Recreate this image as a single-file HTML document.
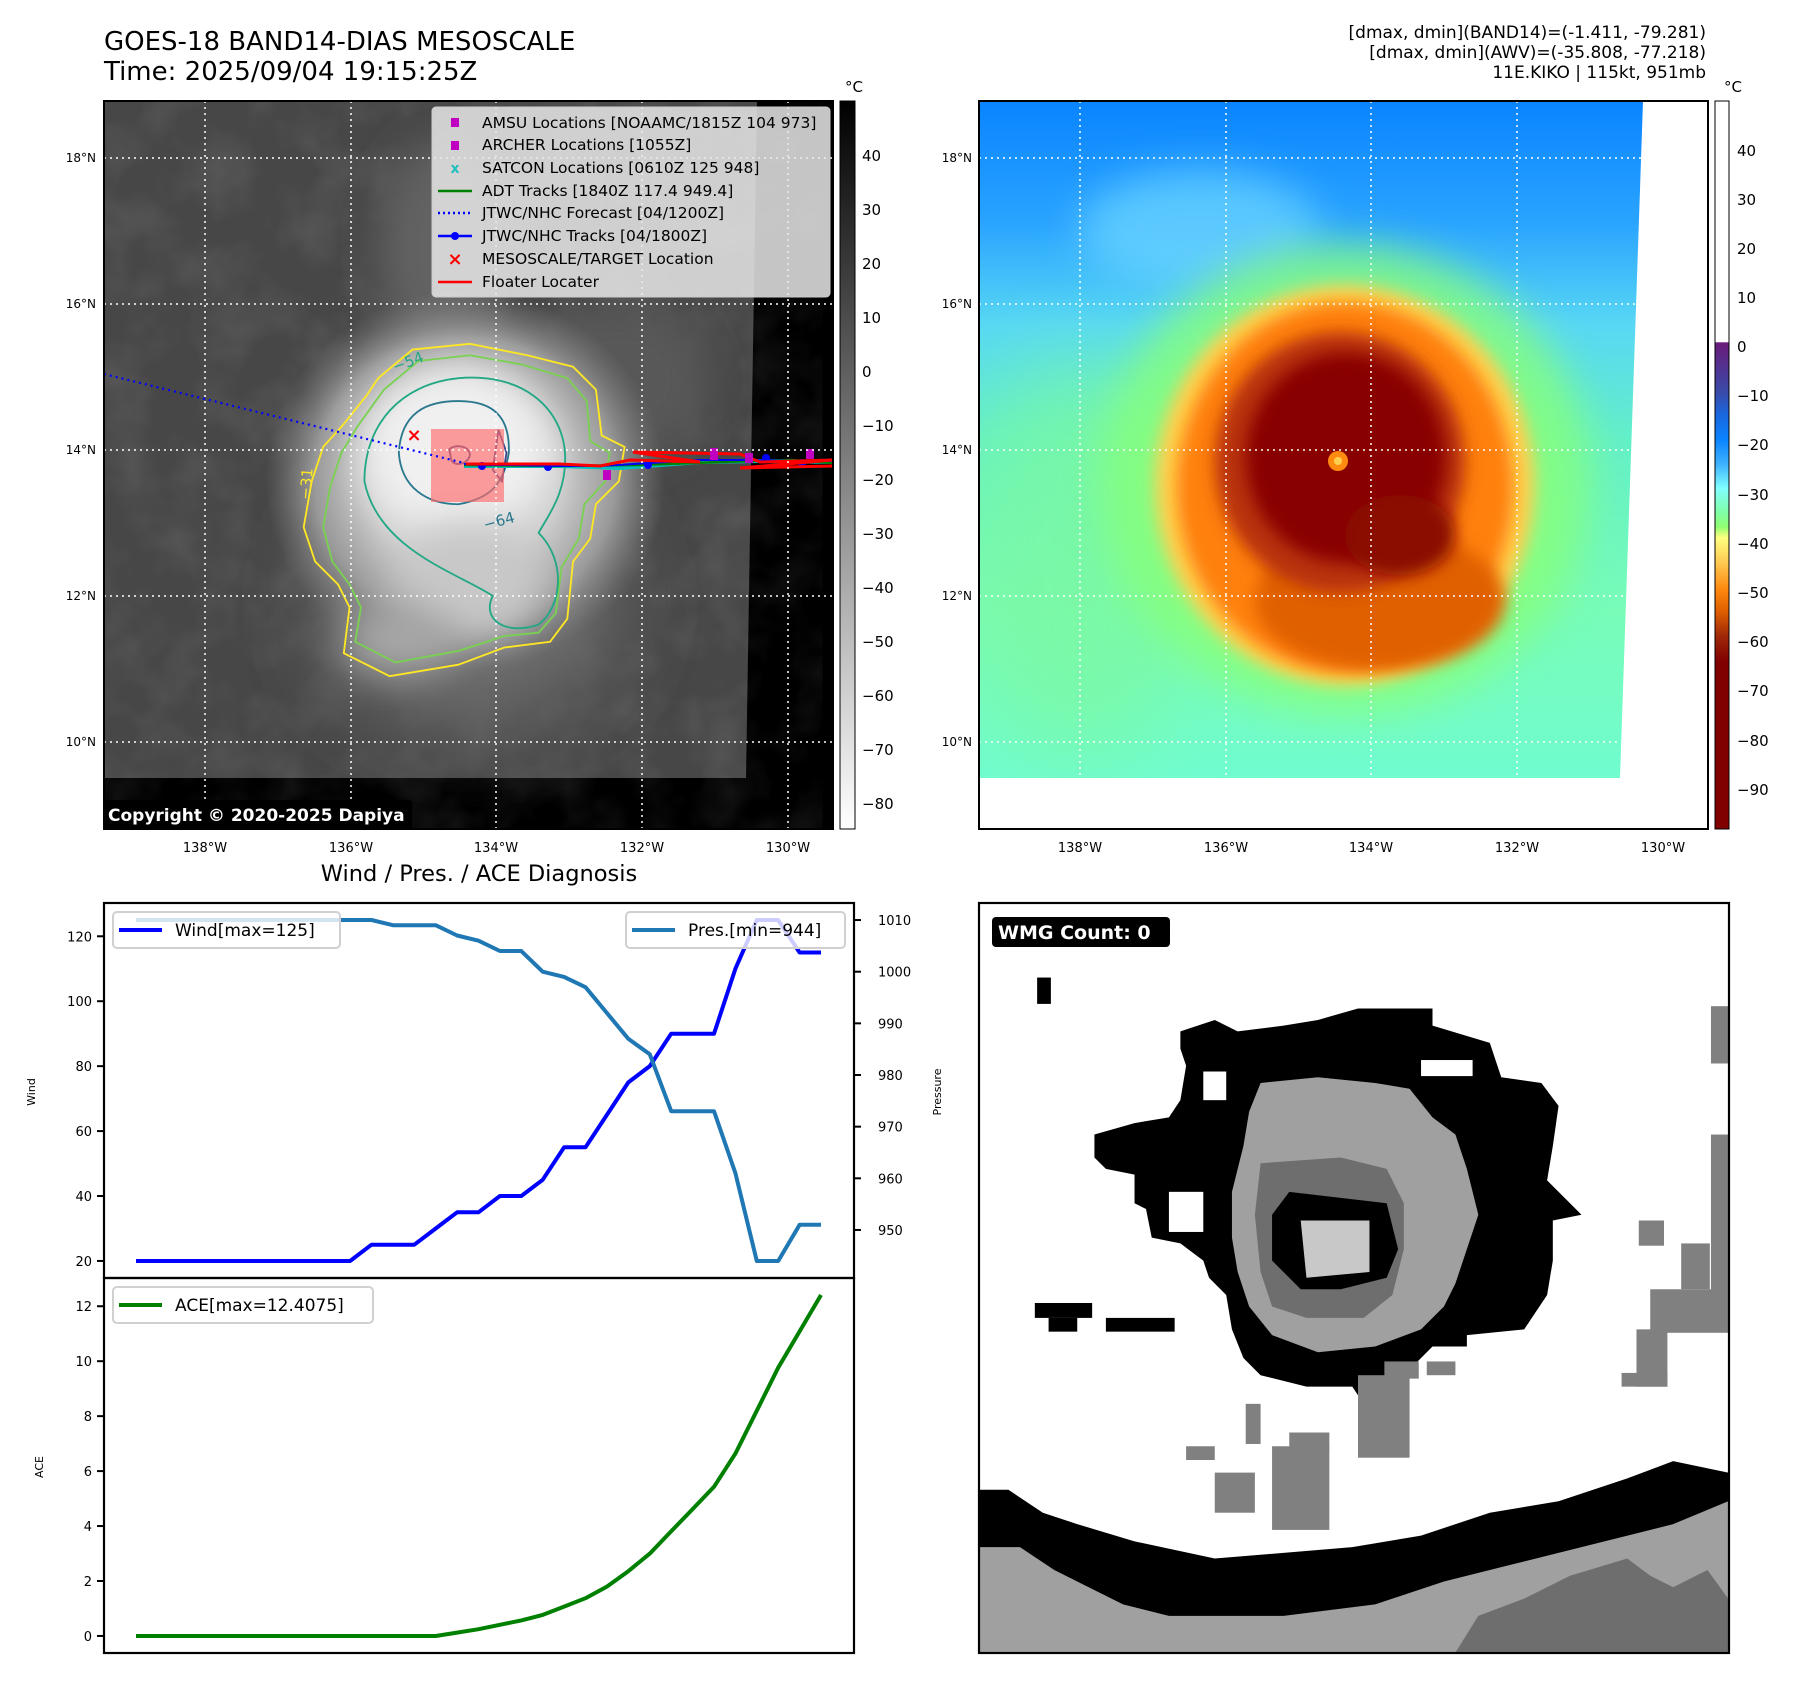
<!DOCTYPE html>
<html><head><meta charset="utf-8"><title>GOES-18 BAND14 KIKO</title>
<style>
html,body{margin:0;padding:0;background:#fff;}
svg{display:block;font-family:"DejaVu Sans","Liberation Sans",sans-serif;}
</style></head>
<body>
<svg id="root" width="1797" height="1690" viewBox="0 0 1797 1690" xmlns="http://www.w3.org/2000/svg">
<defs>
  <filter id="blur8" x="-50%" y="-50%" width="200%" height="200%"><feGaussianBlur stdDeviation="8"/></filter>
  <filter id="blur20" x="-50%" y="-50%" width="200%" height="200%"><feGaussianBlur stdDeviation="20"/></filter>
  <filter id="blur40" x="-50%" y="-50%" width="200%" height="200%"><feGaussianBlur stdDeviation="40"/></filter>
  <filter id="clouds"><feTurbulence type="fractalNoise" baseFrequency="0.02" numOctaves="3" seed="4"/><feColorMatrix type="matrix" values="0 0 0 0 1  0 0 0 0 1  0 0 0 0 1  0.9 0 0 0 -0.35"/></filter>
  <linearGradient id="gcb" x1="0" y1="0" x2="0" y2="1">
    <stop offset="0" stop-color="#000"/><stop offset="1" stop-color="#fff"/>
  </linearGradient>
  <linearGradient id="ccb" x1="0" y1="0" x2="0" y2="1">
    <stop offset="0" stop-color="#fff"/><stop offset="0.331" stop-color="#fff"/>
    <stop offset="0.332" stop-color="#6a1b7a"/>
    <stop offset="0.40" stop-color="#3a4aa8"/>
    <stop offset="0.43" stop-color="#1a66dd"/>
    <stop offset="0.465" stop-color="#0a84ff"/>
    <stop offset="0.50" stop-color="#40b4ff"/>
    <stop offset="0.532" stop-color="#80ffff"/>
    <stop offset="0.565" stop-color="#80ffa8"/>
    <stop offset="0.585" stop-color="#90ff70"/>
    <stop offset="0.60" stop-color="#ffff80"/>
    <stop offset="0.635" stop-color="#ffc850"/>
    <stop offset="0.67" stop-color="#ff8a10"/>
    <stop offset="0.70" stop-color="#e06000"/>
    <stop offset="0.735" stop-color="#a02808"/>
    <stop offset="0.77" stop-color="#800000"/>
    <stop offset="1" stop-color="#800000"/>
  </linearGradient>
  <linearGradient id="skyR" x1="0" y1="0" x2="0" y2="1">
    <stop offset="0" stop-color="#0a84ff"/><stop offset="0.18" stop-color="#2aa4ff"/>
    <stop offset="0.33" stop-color="#58d8f4"/><stop offset="0.5" stop-color="#64f0c8"/>
    <stop offset="0.75" stop-color="#78fcb8"/><stop offset="1" stop-color="#70fcd0"/>
  </linearGradient>
  <radialGradient id="stormL" cx="0.5" cy="0.5" r="0.5">
    <stop offset="0" stop-color="#e8e8e8"/><stop offset="0.45" stop-color="#cfcfcf"/>
    <stop offset="0.75" stop-color="#9a9a9a"/><stop offset="1" stop-color="#808080" stop-opacity="0"/>
  </radialGradient>
  <clipPath id="clipL"><rect x="104" y="101" width="729" height="728"/></clipPath>
  <clipPath id="clipR"><polygon points="979,101 1643,101 1620,778 979,778"/></clipPath>
  <clipPath id="clipW"><rect x="979" y="903" width="750" height="750"/></clipPath>
</defs>

<!-- Titles -->
<text x="104" y="50" font-size="26" fill="#000">GOES-18 BAND14-DIAS MESOSCALE</text>
<text x="104" y="80" font-size="26" fill="#000">Time: 2025/09/04 19:15:25Z</text>
<g font-size="17" text-anchor="end" fill="#000">
  <text x="1706" y="38">[dmax, dmin](BAND14)=(-1.411, -79.281)</text>
  <text x="1706" y="58">[dmax, dmin](AWV)=(-35.808, -77.218)</text>
  <text x="1706" y="78">11E.KIKO | 115kt, 951mb</text>
</g>

<!-- LEFT MAP -->
<g>
  <g clip-path="url(#clipL)">
    <rect x="104" y="101" width="729" height="728" fill="#000"/>
    <polygon points="104,101 757,101 746,778 104,778" fill="#474747"/>
    <polygon points="104,101 757,101 746,778 104,778" fill="#000" opacity="0.18" filter="url(#clouds)"/>
    <ellipse cx="440" cy="250" rx="60" ry="110" fill="#626262" filter="url(#blur20)"/>
    <ellipse cx="620" cy="380" rx="90" ry="80" fill="#585858" filter="url(#blur20)"/>
    <ellipse cx="470" cy="600" rx="150" ry="130" fill="#6c6c6c" filter="url(#blur40)"/>
    <ellipse cx="465" cy="480" rx="200" ry="190" fill="url(#stormL)"/>
    <ellipse cx="455" cy="450" rx="95" ry="85" fill="#f0f0f0" filter="url(#blur20)"/>
    <ellipse cx="470" cy="580" rx="75" ry="60" fill="#c8c8c8" filter="url(#blur20)"/>
    <ellipse cx="400" cy="640" rx="60" ry="35" fill="#a8a8a8" filter="url(#blur20)"/>
    <g transform="scale(1.146)" fill="none" stroke-width="1.6">
      <path d="M330,330 L360,305 L410,300 L460,310 L500,320 L520,340 L525,380 L545,390 L540,420 L520,440 L515,470 L500,490 L495,540 L480,560 L440,565 L400,580 L340,590 L300,570 L305,530 L295,510 L275,490 L265,460 L272,420 L282,390 L300,370 L320,345 Z" stroke="#fde725"/>
      <path d="M335,340 L365,315 L410,310 L455,318 L495,330 L512,350 L515,385 L532,395 L528,420 L510,440 L505,470 L490,495 L485,535 L470,552 L440,555 L400,568 L345,578 L310,560 L315,530 L305,510 L290,490 L282,460 L288,425 L298,395 L312,372 Z" stroke="#7ad151"/>
      <path d="M318,420 C318,370 350,335 400,330 C455,325 490,355 493,395 C495,430 478,450 470,465 C495,490 490,530 470,545 C440,555 420,540 430,520 C400,500 330,480 318,420 Z" stroke="#22a884"/>
      <path d="M348,395 C350,360 372,350 400,350 C432,350 445,365 444,395 C440,420 430,435 400,440 C372,440 350,425 348,395 Z" stroke="#2a788e"/>
      <path d="M392,392 C396,388 408,388 410,396 C410,404 398,408 394,402 Z" stroke="#414487"/>
      <path d="M435,375 L442,395 L438,420 L430,410 Z" stroke="#414487"/>
    </g>
    <text x="395" y="372" font-size="15" fill="#22a884" transform="rotate(-20 395 372)">−54</text>
    <text x="485" y="530" font-size="15" fill="#2a788e" transform="rotate(-15 485 530)">−64</text>
    <text x="310" y="500" font-size="15" fill="#fde725" transform="rotate(-85 310 500)">−31</text>
    <rect x="431" y="429" width="73" height="73" fill="#ff6b6b" opacity="0.65"/>
    <line x1="104" y1="374" x2="464" y2="463" stroke="#0000ff" stroke-width="2.2" stroke-dasharray="2,4"/>
    <polyline points="464,466 560,466 620,468 700,462 760,461 833,462" fill="none" stroke="#00c0c0" stroke-width="4"/>
    <polyline points="464,465 560,466 640,465 720,462 790,460 833,463" fill="none" stroke="#008000" stroke-width="2.5"/>
    <polyline points="464,464 482,465 510,465 560,466 600,466 650,463 700,460 750,460 800,461 833,461" fill="none" stroke="#0000ff" stroke-width="2"/>
    <g fill="#0000ff">
      <circle cx="482" cy="466" r="4"/><circle cx="548" cy="467" r="4"/><circle cx="648" cy="465" r="4"/><circle cx="766" cy="458" r="4"/><circle cx="802" cy="463" r="4"/>
    </g>
    <polyline points="466,464 560,464 600,466 630,460 700,462 633,452 740,454 760,462 833,460 740,468 833,466" fill="none" stroke="#ff0000" stroke-width="3"/>
    <g fill="#c000c0">
      <rect x="603" y="470" width="8" height="10"/><rect x="710" y="448" width="8" height="12"/><rect x="745" y="453" width="8" height="10"/><rect x="806" y="449" width="8" height="10"/>
    </g>
    <text x="414" y="441" font-size="18" font-weight="bold" fill="#ff0000" text-anchor="middle">×</text>
    <g stroke="#fff" stroke-width="1.5" stroke-dasharray="2,4">
      <line x1="205" y1="101" x2="205" y2="829"/><line x1="351" y1="101" x2="351" y2="829"/><line x1="496" y1="101" x2="496" y2="829"/><line x1="642" y1="101" x2="642" y2="829"/><line x1="788" y1="101" x2="788" y2="829"/>
      <line x1="104" y1="158" x2="833" y2="158"/><line x1="104" y1="304" x2="833" y2="304"/><line x1="104" y1="450" x2="833" y2="450"/><line x1="104" y1="596" x2="833" y2="596"/><line x1="104" y1="742" x2="833" y2="742"/>
    </g>
    <rect x="104" y="800" width="308" height="29" fill="#000" rx="3"/>
    <text x="108" y="821" font-size="17" font-weight="bold" fill="#fff">Copyright © 2020-2025 Dapiya</text>
  </g>
  <rect x="104" y="101" width="729" height="728" fill="none" stroke="#000" stroke-width="2"/>
</g>

<g>
  <rect x="432" y="107" width="398" height="190" rx="4" fill="#e8e8e8" fill-opacity="0.85" stroke="#ccc"/>
  <g font-size="15.5" fill="#000">
    <rect x="451" y="118" width="8" height="9" fill="#c000c0"/><text x="482" y="128">AMSU Locations [NOAAMC/1815Z 104 973]</text>
    <rect x="451" y="141" width="8" height="9" fill="#c000c0"/><text x="482" y="150">ARCHER Locations [1055Z]</text>
    <text x="455" y="173" font-size="14" font-weight="bold" fill="#20c0c0" text-anchor="middle">x</text><text x="482" y="173">SATCON Locations [0610Z 125 948]</text>
    <line x1="438" y1="191" x2="472" y2="191" stroke="#008000" stroke-width="2.5"/><text x="482" y="196">ADT Tracks [1840Z 117.4 949.4]</text>
    <line x1="438" y1="213" x2="472" y2="213" stroke="#0000ff" stroke-width="2.5" stroke-dasharray="2,3"/><text x="482" y="218">JTWC/NHC Forecast [04/1200Z]</text>
    <line x1="438" y1="236" x2="472" y2="236" stroke="#0000ff" stroke-width="2.5"/><circle cx="455" cy="236" r="4" fill="#0000ff"/><text x="482" y="241">JTWC/NHC Tracks [04/1800Z]</text>
    <text x="455" y="265" font-size="18" font-weight="bold" fill="#ff0000" text-anchor="middle">×</text><text x="482" y="264">MESOSCALE/TARGET Location</text>
    <line x1="438" y1="282" x2="472" y2="282" stroke="#ff0000" stroke-width="2.5"/><text x="482" y="287">Floater Locater</text>
  </g>
</g>

<g>
  <rect x="840" y="101" width="15" height="728" fill="url(#gcb)" stroke="#000" stroke-width="1"/>
  <text x="854" y="92" font-size="15" text-anchor="middle">°C</text>
  <g font-size="15" fill="#000">
    <text x="862" y="161">40</text><text x="862" y="215">30</text><text x="862" y="269">20</text><text x="862" y="323">10</text><text x="862" y="377">0</text>
    <text x="862" y="431">−10</text><text x="862" y="485">−20</text><text x="862" y="539">−30</text><text x="862" y="593">−40</text><text x="862" y="647">−50</text>
    <text x="862" y="701">−60</text><text x="862" y="755">−70</text><text x="862" y="809">−80</text>
  </g>
</g>

<g font-size="12" fill="#000" text-anchor="end">
  <text x="96" y="162">18°N</text><text x="96" y="308">16°N</text><text x="96" y="454">14°N</text><text x="96" y="600">12°N</text><text x="96" y="746">10°N</text>
  <text x="972" y="162">18°N</text><text x="972" y="308">16°N</text><text x="972" y="454">14°N</text><text x="972" y="600">12°N</text><text x="972" y="746">10°N</text>
</g>
<g font-size="13" fill="#000" text-anchor="middle">
  <text x="205" y="852">138°W</text><text x="351" y="852">136°W</text><text x="496" y="852">134°W</text><text x="642" y="852">132°W</text><text x="788" y="852">130°W</text>
  <text x="1080" y="852">138°W</text><text x="1226" y="852">136°W</text><text x="1371" y="852">134°W</text><text x="1517" y="852">132°W</text><text x="1663" y="852">130°W</text>
</g>

<g>
  <g clip-path="url(#clipR)">
    <rect x="979" y="101" width="750" height="680" fill="url(#skyR)"/>
    <ellipse cx="1080" cy="560" rx="120" ry="200" fill="#7cf8a0" opacity="0.7" filter="url(#blur40)"/>
    <ellipse cx="1200" cy="230" rx="120" ry="60" fill="#70d8ff" opacity="0.7" filter="url(#blur20)"/>
    <ellipse cx="1345" cy="480" rx="245" ry="235" fill="#88ff78" opacity="0.8" filter="url(#blur20)"/>
    <ellipse cx="1345" cy="485" rx="190" ry="200" fill="#ffd050" filter="url(#blur8)"/>
    <ellipse cx="1345" cy="487" rx="168" ry="185" fill="#ff8010" filter="url(#blur8)"/>
    <ellipse cx="1380" cy="600" rx="125" ry="70" fill="#e06000" filter="url(#blur8)"/>
    <ellipse cx="1340" cy="462" rx="125" ry="130" fill="#b83008" filter="url(#blur8)"/>
    <ellipse cx="1346" cy="458" rx="100" ry="105" fill="#880000" filter="url(#blur8)"/>
    <ellipse cx="1400" cy="535" rx="55" ry="40" fill="#8a0a00" filter="url(#blur8)"/>
    <circle cx="1338" cy="461" r="10" fill="#ff8a10"/>
    <circle cx="1338" cy="461" r="4" fill="#ffd050"/>
    <g stroke="#fff" stroke-width="1.5" stroke-dasharray="2,4">
      <line x1="1080" y1="101" x2="1080" y2="829"/><line x1="1226" y1="101" x2="1226" y2="829"/><line x1="1371" y1="101" x2="1371" y2="829"/><line x1="1517" y1="101" x2="1517" y2="829"/><line x1="1663" y1="101" x2="1663" y2="829"/>
      <line x1="979" y1="158" x2="1708" y2="158"/><line x1="979" y1="304" x2="1708" y2="304"/><line x1="979" y1="450" x2="1708" y2="450"/><line x1="979" y1="596" x2="1708" y2="596"/><line x1="979" y1="742" x2="1708" y2="742"/>
    </g>
  </g>
  <rect x="979" y="101" width="729" height="728" fill="none" stroke="#000" stroke-width="2"/>
</g>
<g>
  <rect x="1715" y="101" width="14" height="728" fill="url(#ccb)" stroke="#000" stroke-width="1"/>
  <text x="1733" y="92" font-size="15" text-anchor="middle">°C</text>
  <g font-size="15" fill="#000">
    <text x="1737" y="156">40</text><text x="1737" y="205">30</text><text x="1737" y="254">20</text><text x="1737" y="303">10</text><text x="1737" y="352">0</text>
    <text x="1737" y="401">−10</text><text x="1737" y="450">−20</text><text x="1737" y="500">−30</text><text x="1737" y="549">−40</text><text x="1737" y="598">−50</text>
    <text x="1737" y="647">−60</text><text x="1737" y="696">−70</text><text x="1737" y="746">−80</text><text x="1737" y="795">−90</text>
  </g>
</g>

<text x="479" y="881" font-size="22.5" text-anchor="middle">Wind / Pres. / ACE Diagnosis</text>
<g id="charts"></g>

<g>
  <g clip-path="url(#clipW)">
    <rect x="979" y="903" width="750" height="750" fill="#fff"/>
    <g transform="scale(1.146)">
      <polygon fill="#000" points="1030,900 1060,890 1080,900 1120,895 1150,890 1185,880 1250,880 1250,895 1300,910 1310,940 1345,945 1360,965 1355,1000 1350,1030 1370,1050 1380,1060 1355,1065 1355,1100 1350,1130 1330,1160 1280,1165 1280,1175 1250,1175 1225,1200 1195,1210 1190,1225 1180,1210 1140,1210 1100,1200 1085,1185 1075,1160 1070,1130 1055,1115 1050,1100 1030,1085 1005,1080 1000,1055 990,1050 990,1025 965,1020 955,1010 955,990 990,980 1020,975 1030,960 1035,930 1030,915"/>
      <rect x="1240" y="925" width="45" height="14" fill="#fff"/>
      <rect x="1050" y="935" width="20" height="25" fill="#fff"/>
      <rect x="1020" y="1040" width="30" height="35" fill="#fff"/>
      <polygon fill="#a0a0a0" points="1100,945 1150,940 1200,945 1230,950 1250,975 1270,990 1280,1020 1290,1060 1280,1090 1270,1120 1260,1140 1240,1160 1200,1175 1150,1180 1110,1165 1090,1140 1080,1110 1075,1080 1075,1040 1085,1000 1090,970"/>
      <polygon fill="#6e6e6e" points="1100,1015 1170,1010 1210,1020 1225,1050 1225,1090 1215,1130 1190,1150 1140,1150 1110,1140 1100,1110 1095,1060"/>
      <polygon fill="#000" points="1125,1040 1210,1050 1220,1090 1210,1115 1170,1125 1135,1125 1110,1100 1110,1060"/>
      <polygon fill="#c8c8c8" points="1135,1065 1195,1065 1195,1110 1140,1115"/>
      <g fill="#000"><rect x="903" y="1137" width="50" height="13"/><rect x="915" y="1150" width="25" height="12"/><rect x="965" y="1150" width="60" height="12"/><rect x="905" y="853" width="12" height="23"/></g>
      <g fill="#808080">
        <rect x="1493" y="878" width="15" height="50"/><rect x="1493" y="990" width="15" height="170"/><rect x="1440" y="1125" width="68" height="38"/>
        <rect x="1428" y="1160" width="27" height="50"/><rect x="1415" y="1198" width="40" height="12"/><rect x="1430" y="1065" width="22" height="22"/><rect x="1467" y="1085" width="25" height="40"/>
        <rect x="1060" y="1285" width="35" height="35"/><rect x="1110" y="1262" width="50" height="73"/><rect x="1125" y="1250" width="35" height="15"/>
        <rect x="1185" y="1200" width="45" height="72"/><rect x="1208" y="1188" width="30" height="15"/><rect x="1035" y="1262" width="25" height="12"/>
        <rect x="1087" y="1225" width="13" height="35"/><rect x="1245" y="1188" width="25" height="12"/>
      </g>
      <polygon fill="#000" points="854,1300 880,1300 910,1320 940,1330 990,1345 1060,1360 1180,1350 1240,1340 1300,1320 1360,1310 1420,1290 1460,1275 1508,1285 1508,1442 854,1442"/>
      <polygon fill="#a0a0a0" points="854,1350 890,1350 920,1370 950,1385 980,1400 1020,1410 1120,1410 1200,1400 1260,1380 1320,1365 1400,1345 1460,1330 1508,1310 1508,1442 854,1442"/>
      <polygon fill="#6e6e6e" points="1270,1442 1290,1410 1330,1395 1370,1375 1420,1360 1440,1375 1460,1385 1490,1370 1508,1395 1508,1442"/>
    </g>
  </g>
  <rect x="979" y="903" width="750" height="750" fill="none" stroke="#000" stroke-width="2.2"/>
  <rect x="992" y="917" width="178" height="30" rx="4" fill="#000"/>
  <text x="998" y="939" font-size="19" font-weight="bold" fill="#fff">WMG Count: 0</text>
</g>

<script>
const windValues = [20,20,20,20,20,20,20,20,20,20,20,25,25,25,30,35,35,40,40,45,55,55,65,75,80,90,90,90,110,125,125,115,115];
const presValues = [1010,1010,1010,1010,1010,1010,1010,1010,1010,1010,1010,1010,1009,1009,1009,1007,1006,1004,1004,1000,999,997,992,987,984,973,973,973,961,944,944,951,951];
const aceValues = [0,0,0,0,0,0,0,0,0,0,0,0,0,0,0,0.1225,0.245,0.405,0.565,0.7675,1.07,1.3725,1.795,2.3575,2.9975,3.8075,4.6175,5.4275,6.6375,8.2,9.7625,11.085,12.4075];
const windTicks = [20,40,60,80,100,120];
const presTicks = [950,960,970,980,990,1000,1010];
const aceTicks = [0,2,4,6,8,10,12];

const NS = 'http://www.w3.org/2000/svg';
const g = document.getElementById('charts');
function mk(tag, attrs, parent){const e=document.createElementNS(NS,tag);for(const k in attrs)e.setAttribute(k,attrs[k]);(parent||g).appendChild(e);return e;}

const L=104,R=854,T1=903,B1=1278,T2=1278,B2=1653;
const n = windValues.length;
const xS = i => 136 + i*(821-136)/(n-1);
const wMin=Math.min(...windValues), wMax=Math.max(...windValues), wPad=(wMax-wMin)*0.05;
const yW = v => B1 - (v-(wMin-wPad))/((wMax+wPad)-(wMin-wPad))*(B1-T1);
const pMin=Math.min(...presValues), pMax=Math.max(...presValues), pPad=(pMax-pMin)*0.05;
const yP = v => B1 - (v-(pMin-pPad))/((pMax+pPad)-(pMin-pPad))*(B1-T1);
const aMin=Math.min(...aceValues), aMax=Math.max(...aceValues), aPad=(aMax-aMin)*0.05;
const yA = v => B2 - (v-(aMin-aPad))/((aMax+aPad)-(aMin-aPad))*(B2-T2);

function pts(vals, yf){return vals.map((v,i)=>xS(i).toFixed(1)+','+yf(v).toFixed(1)).join(' ');}

let f1 = mk('rect',{x:L,y:T1,width:R-L,height:B1-T1,fill:'#fff',stroke:'none'});


let f2 = mk('rect',{x:L,y:T2,width:R-L,height:B2-T2,fill:'#fff',stroke:'none'});



let wl = mk('polyline',{points:pts(windValues,yW),fill:'none',stroke:'#0000ff','stroke-width':4,'stroke-linejoin':'round'});


let pl = mk('polyline',{points:pts(presValues,yP),fill:'none',stroke:'#1f77b4','stroke-width':4,'stroke-linejoin':'round'});


let al = mk('polyline',{points:pts(aceValues,yA),fill:'none',stroke:'#008000','stroke-width':4,'stroke-linejoin':'round'});



let b1 = mk('rect',{x:L,y:T1,width:R-L,height:B1-T1,fill:'none',stroke:'#000','stroke-width':2.2});


let b2 = mk('rect',{x:L,y:T2,width:R-L,height:B2-T2,fill:'none',stroke:'#000','stroke-width':2.2});



windTicks.forEach(v=>{
  const y=yW(v);
  mk('line',{x1:L-7,y1:y,x2:L,y2:y,stroke:'#000','stroke-width':2});
  const t=mk('text',{x:L-12,y:y+5,'font-size':13,'text-anchor':'end'});t.textContent=v;
  
  
});
presTicks.forEach(v=>{
  const y=yP(v);
  mk('line',{x1:R,y1:y,x2:R+7,y2:y,stroke:'#000','stroke-width':2});
  const t=mk('text',{x:R+24,y:y+5,'font-size':13});t.textContent=v;
  
  
});
aceTicks.forEach(v=>{
  const y=yA(v);
  mk('line',{x1:L-7,y1:y,x2:L,y2:y,stroke:'#000','stroke-width':2});
  const t=mk('text',{x:L-12,y:y+5,'font-size':13,'text-anchor':'end'});t.textContent=v;
  
  
});

let at1=mk('text',{x:35,y:1092,'font-size':11,'text-anchor':'middle',transform:'rotate(-90 35 1092)'});at1.textContent='Wind';


let at2=mk('text',{x:941,y:1092,'font-size':11,'text-anchor':'middle',transform:'rotate(-90 941 1092)'});at2.textContent='Pressure';


let at3=mk('text',{x:43,y:1467,'font-size':11,'text-anchor':'middle',transform:'rotate(-90 43 1467)'});at3.textContent='ACE';



function legend(x,y,w,color,label,name){
  const lg=mk('g',{});
  
  
  mk('rect',{x:x,y:y,width:w,height:36,rx:4,fill:'#fff','fill-opacity':0.8,stroke:'#d0d0d0','stroke-width':2},lg);
  mk('line',{x1:x+6,y1:y+18,x2:x+49,y2:y+18,stroke:color,'stroke-width':4},lg);
  const t=mk('text',{x:x+62,y:y+24,'font-size':17},lg);t.textContent=label;
}
legend(113,912,227,'#0000ff','Wind[max=125]','wind-legend');
legend(626,912,219,'#1f77b4','Pres.[min=944]','pressure-legend');
legend(113,1287,260,'#008000','ACE[max=12.4075]','ace-legend');
</script>
</svg>
</body></html>
